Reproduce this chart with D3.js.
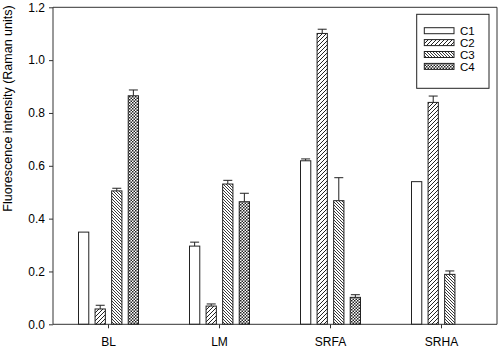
<!DOCTYPE html>
<html><head><meta charset="utf-8">
<script src="https://cdn.jsdelivr.net/npm/d3@7"></script>
<style>body{margin:0;background:#fff}svg{display:block}text{font-family:Arial,"Liberation Sans",sans-serif;fill:#000}</style>
</head><body>
<svg id="c" width="498" height="350"></svg>
<script>
const categories = ["BL", "LM", "SRFA", "SRHA"];
const series = ["C1", "C2", "C3", "C4"];
const C1 = [0.349, 0.296, 0.619, 0.540];
const C2 = [0.058, 0.069, 1.101, 0.840];
const C3 = [0.505, 0.531, 0.468, 0.189];
const C4 = [0.865, 0.464, 0.102, null];
const C1err = [0.0, 0.015, 0.007, 0.0];
const C2err = [0.014, 0.008, 0.016, 0.024];
const C3err = [0.010, 0.014, 0.087, 0.013];
const C4err = [0.022, 0.032, 0.010, null];
const yTicks = [0.0, 0.2, 0.4, 0.6, 0.8, 1.0, 1.2];

const values = [C1, C2, C3, C4];
const errs = [C1err, C2err, C3err, C4err];
const fills = ["url(#p1)", "url(#p2)", "url(#p3)", "url(#p4)"];

const svg = d3.select("#c");
const L = 53, R = 497, T = 7.3, B = 324.3;
const x = d3.scaleBand().domain(categories).range([L, R]);
const xi = d3.scaleBand().domain(series).range([0, 60]).paddingInner(0.38).paddingOuter(0);
const y = d3.scaleLinear().domain([0, 1.2]).range([B, T]);

// patterns
const defs = svg.append("defs");
const p1 = defs.append("pattern").attr("id","p1").attr("patternUnits","userSpaceOnUse").attr("width",4).attr("height",4);
p1.append("rect").attr("width",4).attr("height",4).attr("fill","#fff");
const p2 = defs.append("pattern").attr("id","p2").attr("patternUnits","userSpaceOnUse").attr("width",4).attr("height",4);
p2.append("rect").attr("width",4).attr("height",4).attr("fill","#fff");
p2.append("path").attr("d","M-1,1 L1,-1 M0,4 L4,0 M3,5 L5,3").attr("stroke","#222").attr("stroke-width",1);
const p3 = defs.append("pattern").attr("id","p3").attr("patternUnits","userSpaceOnUse").attr("width",3).attr("height",3);
p3.append("rect").attr("width",3).attr("height",3).attr("fill","#fff");
p3.append("path").attr("d","M-1,2 L1,4 M0,0 L3,3 M2,-1 L4,1").attr("stroke","#222").attr("stroke-width",0.9);
const p4 = defs.append("pattern").attr("id","p4").attr("patternUnits","userSpaceOnUse").attr("width",3).attr("height",3);
p4.append("rect").attr("width",3).attr("height",3).attr("fill","#fff");
p4.append("rect").attr("width",1.5).attr("height",1.5).attr("fill","#222");
p4.append("rect").attr("x",1.5).attr("y",1.5).attr("width",1.5).attr("height",1.5).attr("fill","#222");

// frame top & right
svg.append("line").attr("x1",L).attr("x2",R).attr("y1",T).attr("y2",T).attr("stroke","#333").attr("stroke-width",1);
svg.append("line").attr("x1",R).attr("x2",R).attr("y1",T).attr("y2",B).attr("stroke","#333").attr("stroke-width",1);

// bars
series.forEach((s, si) => {
  const g = svg.append("g");
  categories.forEach((c, ci) => {
    const v = values[si][ci];
    if (v == null) return;
    const bx = x(c) + x.bandwidth()/2 - 30 + xi(s);
    const bw = xi.bandwidth();
    const e = errs[si][ci];
    if (e > 0) {
      const cx = bx + bw/2;
      g.append("line").attr("x1",cx).attr("x2",cx).attr("y1",y(v)).attr("y2",y(v+e)).attr("stroke","#222");
      g.append("line").attr("x1",cx-4.5).attr("x2",cx+4.5).attr("y1",y(v+e)).attr("y2",y(v+e)).attr("stroke","#222");
    }
    g.append("rect").attr("x",bx).attr("y",y(v)).attr("width",bw).attr("height",B - y(v))
      .attr("fill",fills[si]).attr("stroke","#222").attr("stroke-width",1);
  });
});

// axes
const yAxis = d3.axisLeft(y).tickValues(yTicks).tickFormat(d3.format(".1f")).tickSize(4).tickPadding(4);
const gy = svg.append("g").attr("transform",`translate(${L},0)`).call(yAxis);
const xAxis = d3.axisBottom(x).tickSize(4).tickPadding(9);
const gx = svg.append("g").attr("transform",`translate(0,${B})`).call(xAxis);
[gx, gy].forEach(g => {
  g.select(".domain").attr("stroke","#333");
  g.selectAll(".tick line").attr("stroke","#333");
  g.selectAll(".tick text").attr("font-size",12).attr("font-family","Arial").attr("fill","#000");
});
gx.select(".domain").attr("d",`M${L},0H${R}`);
gy.select(".domain").attr("d",`M0,${B}V${T}`);

// y label
svg.append("text").attr("transform","translate(12,108.5) rotate(-90)").attr("text-anchor","middle")
  .attr("font-size",12.5).text("Fluorescence intensity (Raman units)");

// legend
const lg = svg.append("g");
lg.append("rect").attr("x",416.7).attr("y",14.3).attr("width",72.3).attr("height",74).attr("fill","#fff").attr("stroke","#222");
series.forEach((s, i) => {
  const ly = 27.7 + i * 11.9;
  lg.append("rect").attr("x",424.3).attr("y",ly).attr("width",29.7).attr("height",6).attr("fill",fills[i]).attr("stroke","#222");
  lg.append("text").attr("x",460).attr("y",ly + 7.3).attr("font-size",11.5).text(s);
});
</script>
</body></html>
